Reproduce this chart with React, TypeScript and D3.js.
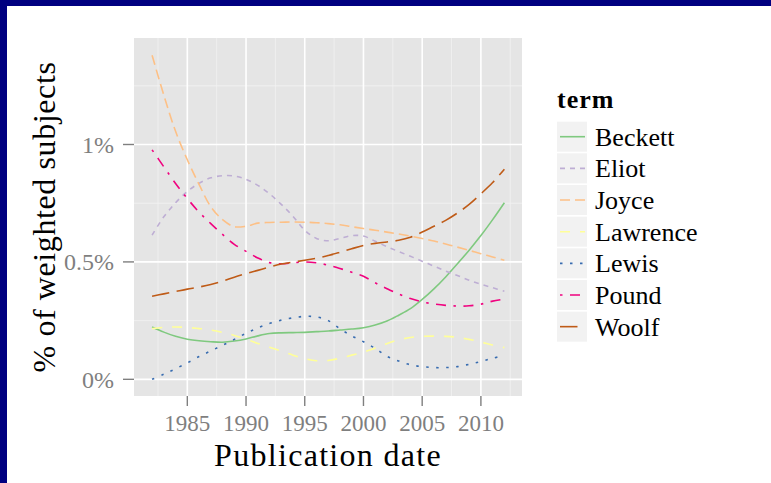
import * as d3 from "d3";

// publication years (x)
const years = [
    1982, 1983, 1984, 1985, 1986, 1987, 1988, 1989, 1990, 1991, 1992, 1993, 1994, 1995, 1996,
    1997, 1998, 1999, 2000, 2001, 2002, 2003, 2004, 2005, 2006, 2007, 2008, 2009, 2010, 2011,
    2012,
];

// % of weighted subjects, smoothed, one value per year
const beckett = [
    0.223, 0.201, 0.183, 0.171, 0.164, 0.16, 0.158, 0.163, 0.172, 0.185, 0.195, 0.198, 0.199,
    0.2, 0.203, 0.206, 0.21, 0.214, 0.22, 0.231, 0.248, 0.273, 0.301, 0.34, 0.385, 0.436, 0.492,
    0.55, 0.612, 0.68, 0.752,
];
const eliot = [
    0.614, 0.692, 0.752, 0.8, 0.835, 0.858, 0.867, 0.866, 0.852, 0.826, 0.79, 0.745, 0.694,
    0.635, 0.6, 0.59, 0.6, 0.612, 0.61, 0.588, 0.565, 0.544, 0.524, 0.503, 0.482, 0.461, 0.442,
    0.422, 0.405, 0.39, 0.375,
];
const joyce = [
    1.38, 1.21, 1.056, 0.935, 0.83, 0.735, 0.68, 0.65, 0.652, 0.665, 0.668, 0.669, 0.67, 0.669,
    0.667, 0.663, 0.658, 0.65, 0.642, 0.635, 0.627, 0.619, 0.61, 0.6, 0.589, 0.576, 0.563,
    0.549, 0.535, 0.521, 0.507,
];
const lawrence = [
    0.216, 0.221, 0.223, 0.221, 0.216, 0.21, 0.2, 0.187, 0.171, 0.153, 0.137, 0.12, 0.103,
    0.088, 0.079, 0.08, 0.09, 0.103, 0.116, 0.133, 0.152, 0.168, 0.178, 0.183, 0.184, 0.183,
    0.179, 0.17, 0.159, 0.146, 0.135,
];
const lewis = [
    0.0, 0.022, 0.045, 0.07, 0.097, 0.121, 0.145, 0.17, 0.196, 0.219, 0.238, 0.252, 0.262,
    0.268, 0.266, 0.25, 0.215, 0.185, 0.16, 0.132, 0.098, 0.078, 0.062, 0.054, 0.05, 0.05,
    0.054, 0.064, 0.076, 0.09, 0.101,
];
const pound = [
    0.977, 0.905, 0.834, 0.77, 0.712, 0.663, 0.617, 0.575, 0.545, 0.517, 0.497, 0.492, 0.496,
    0.5, 0.496, 0.486, 0.472, 0.456, 0.439, 0.411, 0.386, 0.363, 0.344, 0.33, 0.321, 0.315,
    0.312, 0.313, 0.32, 0.333, 0.342,
];
const woolf = [
    0.354, 0.364, 0.374, 0.384, 0.393, 0.404, 0.418, 0.435, 0.45, 0.464, 0.478, 0.491, 0.499,
    0.507, 0.516, 0.527, 0.541, 0.556, 0.57, 0.579, 0.585, 0.592, 0.605, 0.627, 0.652, 0.677,
    0.708, 0.745, 0.79, 0.838, 0.895,
];

const terms = ["Beckett", "Eliot", "Joyce", "Lawrence", "Lewis", "Pound", "Woolf"];
const seriesValues = [beckett, eliot, joyce, lawrence, lewis, pound, woolf];

const xTicks = [1985, 1990, 1995, 2000, 2005, 2010];
const xMinor = [1982.5, 1987.5, 1992.5, 1997.5, 2002.5, 2007.5, 2012.5];
const yTicks = [0, 0.5, 1];
const yTickLabels = ["0%", "0.5%", "1%"];
const yMinor = [0.25, 0.75, 1.25];

// ColorBrewer Accent, ggplot linetypes
const colors = ["#7FC97F", "#BEAED4", "#FDC086", "#FFFF99", "#386CB0", "#F0027F", "#BF5B17"];
const dashes = ["", "5,5", "10,5", "10,10", "2.5,7.5", "2.5,7.5,10,7.5", "17.5,7.5"];

const W = 771;
const H = 483;
const panel = { left: 134, right: 522, top: 38, bottom: 396 };
const font = "'Liberation Serif', 'DejaVu Serif', serif";
const grey50 = "#7F7F7F";

const App = () => {
    const x = d3.scaleLinear().domain([1980.46, 2013.5]).range([panel.left, panel.right]);
    const y = d3.scaleLinear().domain([-0.071, 1.4535]).range([panel.bottom, panel.top]);

    const line = d3
        .line<number>()
        .x((_, i) => x(years[i]))
        .y((d) => y(d))
        .curve(d3.curveCatmullRom.alpha(0.5));

    const legendX = 557;
    const legendTop = 121.7;
    const keyStep = 31.66;
    const keySize = 30;

    return (
        <svg
            width={W}
            height={H}
            style={{ position: "absolute", left: 0, top: 0, background: "#fff" }}
            fontFamily={font}
        >
            <rect x={0} y={0} width={W} height={6} fill="#000080" />
            <rect x={0} y={0} width={7} height={H} fill="#000080" />

            {/* panel */}
            <rect
                x={panel.left}
                y={panel.top}
                width={panel.right - panel.left}
                height={panel.bottom - panel.top}
                fill="#E5E5E5"
            />
            {xMinor.map((t) => (
                <line key={"xm" + t} x1={x(t)} x2={x(t)} y1={panel.top} y2={panel.bottom} stroke="#F2F2F2" strokeWidth={0.8} />
            ))}
            {yMinor.map((t) => (
                <line key={"ym" + t} x1={panel.left} x2={panel.right} y1={y(t)} y2={y(t)} stroke="#F2F2F2" strokeWidth={0.8} />
            ))}
            {xTicks.map((t) => (
                <line key={"xg" + t} x1={x(t)} x2={x(t)} y1={panel.top} y2={panel.bottom} stroke="#fff" strokeWidth={1.6} />
            ))}
            {yTicks.map((t) => (
                <line key={"yg" + t} x1={panel.left} x2={panel.right} y1={y(t)} y2={y(t)} stroke="#fff" strokeWidth={1.6} />
            ))}

            {/* series */}
            {seriesValues.map((vals, i) => (
                <path
                    key={terms[i]}
                    d={line(vals) ?? ""}
                    fill="none"
                    stroke={colors[i]}
                    strokeWidth={1.6}
                    strokeDasharray={dashes[i] || undefined}
                />
            ))}

            {/* x axis */}
            {xTicks.map((t) => (
                <g key={"xt" + t}>
                    <line x1={x(t)} x2={x(t)} y1={panel.bottom} y2={panel.bottom + 10} stroke={grey50} strokeWidth={1.4} />
                    <text x={x(t)} y={431} textAnchor="middle" fontSize={23} fill={grey50}>
                        {t}
                    </text>
                </g>
            ))}
            <text
                x={(panel.left + panel.right) / 2}
                y={466}
                textAnchor="middle"
                fontSize={32}
                letterSpacing={1.3}
                fill="#000"
            >
                Publication date
            </text>

            {/* y axis */}
            {yTicks.map((t, i) => (
                <g key={"yt" + t}>
                    <line x1={panel.left - 11} x2={panel.left} y1={y(t)} y2={y(t)} stroke={grey50} strokeWidth={1.4} />
                    <text x={114} y={y(t) + 8.5} textAnchor="end" fontSize={24} fill={grey50}>
                        {yTickLabels[i]}
                    </text>
                </g>
            ))}
            <text
                transform={`translate(55, ${(panel.top + panel.bottom) / 2}) rotate(-90)`}
                textAnchor="middle"
                fontSize={32}
                letterSpacing={0.6}
                fill="#000"
            >
                % of weighted subjects
            </text>

            {/* legend */}
            <text x={legendX} y={108} fontSize={26} fontWeight="bold" letterSpacing={1} fill="#000">
                term
            </text>
            {terms.map((name, i) => {
                const top = legendTop + i * keyStep;
                const cy = top + keySize / 2;
                return (
                    <g key={"lg" + name}>
                        <rect x={legendX} y={top} width={keySize} height={keySize} fill="#F2F2F2" />
                        <line
                            x1={legendX + 3}
                            x2={legendX + 28}
                            y1={cy}
                            y2={cy}
                            stroke={colors[i]}
                            strokeWidth={1.6}
                            strokeDasharray={dashes[i] || undefined}
                        />
                        <text x={595} y={cy + 9} fontSize={26} fill="#000">
                            {name}
                        </text>
                    </g>
                );
            })}
        </svg>
    );
};

export default App;
